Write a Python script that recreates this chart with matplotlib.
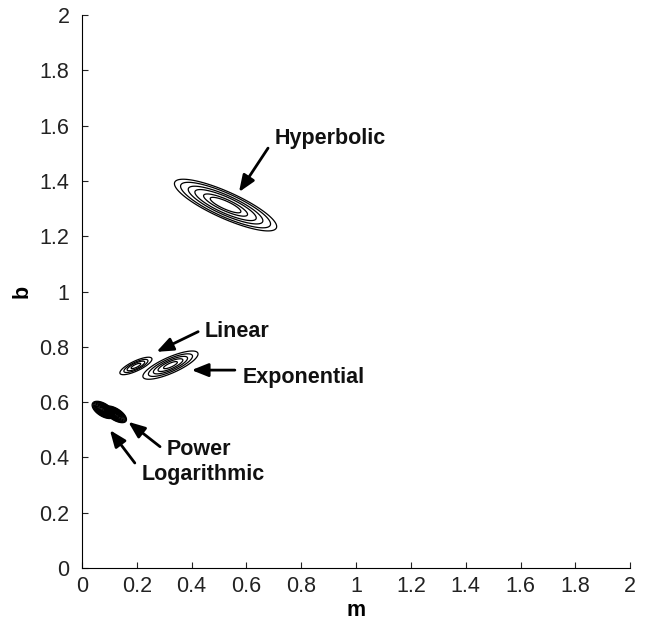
import numpy as np
import matplotlib
matplotlib.use("Agg")
import matplotlib.pyplot as plt

plt.rcParams['font.family'] = ['Liberation Sans', 'DejaVu Sans']

# ---- data: error-surface contours for each model (m, b parameter space) ----
models     = ["Hyperbolic", "Linear", "Exponential", "Logarithmic", "Power"]
center_m   = [0.524, 0.197, 0.323, 0.078, 0.122]
center_b   = [1.313, 0.731, 0.734, 0.572, 0.556]
semi_major = [0.203, 0.064, 0.109, 0.046, 0.046]
semi_minor = [0.048, 0.018, 0.029, 0.023, 0.021]
angle_deg  = [-24.0, 25.0, 23.6, -32.0, -32.0]
level_fracs = [
    [0.30, 0.43, 0.60, 0.73, 0.88, 1.00],
    [0.30, 0.55, 0.75, 1.00],
    [0.25, 0.45, 0.62, 0.80, 1.00],
    [0.12, 0.22, 0.30, 0.38, 0.46, 0.54, 0.62, 0.70, 0.78, 0.86, 0.93, 1.00],
    [0.12, 0.22, 0.30, 0.38, 0.46, 0.54, 0.62, 0.70, 0.78, 0.86, 0.93, 1.00],
]

# annotation labels: text anchor (left, baseline) and arrow tail/tip
label_text = ["Hyperbolic", "Linear", "Exponential", "Power", "Logarithmic"]
label_xy   = [(0.704, 1.534), (0.449, 0.837), (0.588, 0.671), (0.310, 0.409), (0.218, 0.318)]
arrow_tail = [(0.679, 1.519), (0.424, 0.855), (0.558, 0.716), (0.285, 0.439), (0.193, 0.380)]
arrow_tip  = [(0.573, 1.360), (0.272, 0.782), (0.400, 0.716), (0.169, 0.529), (0.102, 0.499)]

x_ticks = [0, 0.2, 0.4, 0.6, 0.8, 1, 1.2, 1.4, 1.6, 1.8, 2]
y_ticks = [0, 0.2, 0.4, 0.6, 0.8, 1, 1.2, 1.4, 1.6, 1.8, 2]
x_tick_labels = ["0", "0.2", "0.4", "0.6", "0.8", "1", "1.2", "1.4", "1.6", "1.8", "2"]
y_tick_labels = ["0", "0.2", "0.4", "0.6", "0.8", "1", "1.2", "1.4", "1.6", "1.8", "2"]

fig = plt.figure(figsize=(6.45, 6.24), dpi=100)
ax = fig.add_axes([0.127, 0.0897, 0.850, 0.886])

for i in range(len(models)):
    cm, cb = center_m[i], center_b[i]
    a, b = semi_major[i], semi_minor[i]
    th = np.deg2rad(angle_deg[i])
    gm = np.linspace(cm - 1.3 * a, cm + 1.3 * a, 500)
    gb = np.linspace(cb - 1.3 * a, cb + 1.3 * a, 500)
    M, B = np.meshgrid(gm, gb)
    u = (M - cm) * np.cos(th) + (B - cb) * np.sin(th)
    v = -(M - cm) * np.sin(th) + (B - cb) * np.cos(th)
    Q = np.sqrt((u / a) ** 2 + (v / b) ** 2)
    ax.contour(M, B, Q, levels=level_fracs[i], colors='black', linewidths=0.9)

for t, xy, tail, tip in zip(label_text, label_xy, arrow_tail, arrow_tip):
    ax.annotate("", xy=tip, xytext=tail,
                arrowprops=dict(arrowstyle="-|>,head_length=1.0,head_width=0.4",
                                mutation_scale=10, lw=2.0, color='black',
                                shrinkA=0, shrinkB=0))
    ax.text(xy[0], xy[1], t, fontsize=15.5, fontweight='bold',
            ha='left', va='baseline', color='#111111')

ax.set_xlim(0, 2)
ax.set_ylim(0, 2)
ax.set_xticks(x_ticks)
ax.set_xticklabels(x_tick_labels)
ax.set_yticks(y_ticks)
ax.set_yticklabels(y_tick_labels)
ax.tick_params(direction='in', length=4, width=0.8, labelsize=15.5, colors='#222222')
ax.tick_params(axis='y', pad=9)
ax.tick_params(axis='x', pad=6)
for s in ['top', 'right']:
    ax.spines[s].set_visible(False)
for s in ['left', 'bottom']:
    ax.spines[s].set_linewidth(0.8)

ax.set_xlabel("m", fontsize=15.5, fontweight='bold', labelpad=2)
ax.set_ylabel("b", fontsize=15.5, fontweight='bold', labelpad=5)

fig.savefig("out.png", dpi=100)
